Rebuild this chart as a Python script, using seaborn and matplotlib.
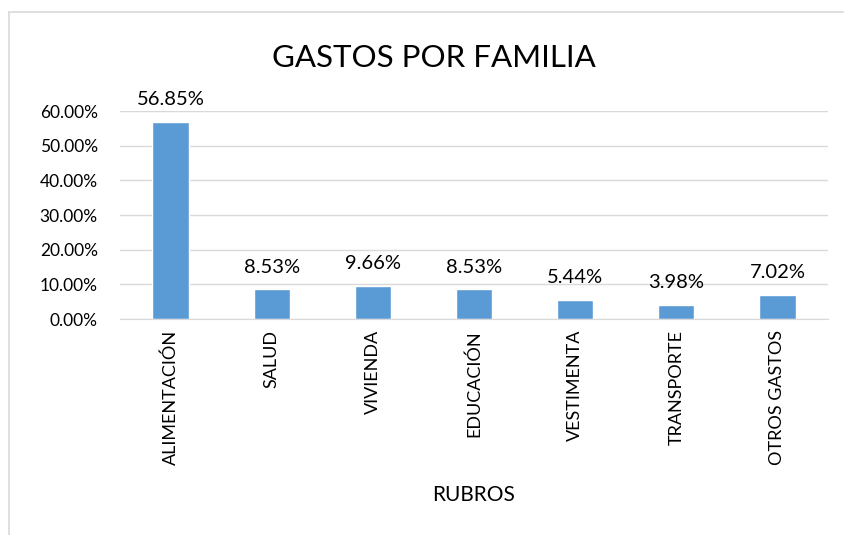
import matplotlib
matplotlib.use('Agg')
import matplotlib.pyplot as plt
import seaborn as sns
from matplotlib.lines import Line2D
from matplotlib.ticker import FuncFormatter

# Data
rubros = ['ALIMENTACIÓN', 'SALUD', 'VIVIENDA', 'EDUCACIÓN',
          'VESTIMENTA', 'TRANSPORTE', 'OTROS GASTOS']
porcentajes = [56.85, 8.53, 9.66, 8.53, 5.44, 3.98, 7.02]

sns.set_style('white')
plt.rcParams['font.family'] = ['Lato', 'DejaVu Sans']
plt.rcParams['text.color'] = 'black'
plt.rcParams['axes.labelcolor'] = 'black'

fig = plt.figure(figsize=(8.44, 5.35), dpi=100)
ax = fig.add_axes([120 / 844, 1 - 319 / 535, 708 / 844, 208 / 535])

sns.barplot(x=rubros, y=porcentajes, color='#5B9BD5', width=0.36,
            saturation=1, ax=ax)

ax.set_ylim(0, 60)
ax.set_yticks(range(0, 61, 10))
ax.yaxis.set_major_formatter(FuncFormatter(lambda v, p: f'{v:.2f}%'))
ax.grid(axis='y', color='#D9D9D9', linewidth=1)
ax.set_axisbelow(True)
for s in ['top', 'right', 'left']:
    ax.spines[s].set_visible(False)
ax.spines['bottom'].set_color('#D9D9D9')
ax.tick_params(axis='both', length=0, colors='black')
ax.tick_params(axis='y', pad=16, labelsize=12.5)
ax.tick_params(axis='x', pad=8, labelsize=13)
plt.setp(ax.get_xticklabels(), rotation=90)

ax.bar_label(ax.containers[0], labels=[f'{v:.2f}%' for v in porcentajes],
             padding=10, fontsize=14.5, color='black')

ax.set_xlabel('RUBROS', fontsize=15, labelpad=14)
ax.set_ylabel('')
fig.text(434 / 844, 1 - 58 / 535, 'GASTOS POR FAMILIA', fontsize=22.5,
         ha='center', va='center', color='black')

# chart frame (cut at right/bottom)
fig.add_artist(Line2D([9 / 844, 1], [1 - 12 / 535] * 2, color='#D9D9D9', lw=1.2))
fig.add_artist(Line2D([9 / 844] * 2, [0, 1 - 12 / 535], color='#D9D9D9', lw=1.2))

fig.savefig('out.png', dpi=100)
